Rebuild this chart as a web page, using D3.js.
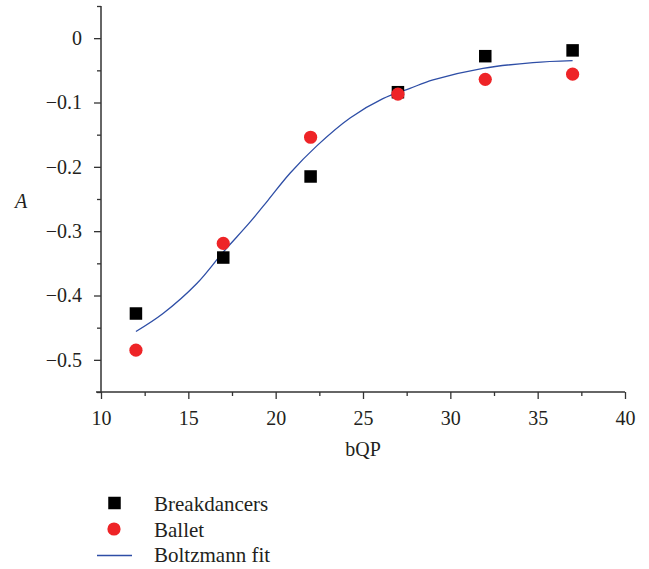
<!DOCTYPE html>
<html>
<head>
<meta charset="utf-8">
<script src="https://cdn.jsdelivr.net/npm/d3@7"></script>
</head>
<body style="margin:0">
<script>
// bQP levels and measured A values for the two dance sequences
const bqp = [12, 17, 22, 27, 32, 37];
const breakdancers = [-0.428, -0.341, -0.215, -0.084, -0.028, -0.019];
const ballet = [-0.485, -0.319, -0.154, -0.087, -0.064, -0.056];

// Boltzmann fit, sampled along the fitted curve
const fitX = [12.0, 13.55, 15.5, 16.98, 18.53, 19.56, 20.82, 22.37, 24.26, 26.14, 27.69, 29.01, 31.87, 34.73, 37.0];
const fitY = [-0.456, -0.428, -0.381, -0.333, -0.286, -0.252, -0.210, -0.167, -0.124, -0.094, -0.078, -0.065, -0.047, -0.038, -0.035];

const xTicks = [10, 15, 20, 25, 30, 35, 40];
const yTicks = [0, -0.1, -0.2, -0.3, -0.4, -0.5];
const legendLabels = ["Breakdancers", "Ballet", "Boltzmann fit"];

const FONT = '"Liberation Serif"';
const INK = "#231f20";

const W = 649, H = 569;
const svg = d3.select("body").append("svg").attr("width", W).attr("height", H)
  .style("display", "block").style("font-family", FONT);

const x = d3.scaleLinear().domain([10, 40]).range([101, 625]);
const y = d3.scaleLinear().domain([-0.55, 0.05]).range([392, 6]);

const axisColor = "#333";
const fmt = d => d === 0 ? "0" : d3.format(".1f")(d);

// minor ticks
const xMinor = d3.range(12.5, 40, 5);
const yMinor = d3.range(-0.55, 0.06, 0.1).map(v => +v.toFixed(2));

// label helper: plain text in the serif face
const serif = sel => sel.style("font-family", FONT).attr("fill", INK);

const gx = svg.append("g").attr("transform", `translate(0,392)`);
gx.call(d3.axisBottom(x).tickValues(xMinor).tickSize(4).tickFormat(""));
gx.selectAll(".tick line").attr("stroke", axisColor).attr("stroke-width", 1.3);
gx.select(".domain").remove();
const gx2 = svg.append("g").attr("transform", `translate(0,392)`);
gx2.call(d3.axisBottom(x).tickValues(xTicks).tickSize(7).tickPadding(12).tickFormat(d3.format("d")).tickSizeOuter(0));
gx2.attr("font-family", null).attr("font-size", null);
gx2.selectAll(".domain").attr("stroke", axisColor).attr("stroke-width", 1.5).attr("d", `M96,0H${x(40)}`);
gx2.selectAll(".tick line").attr("stroke", axisColor).attr("stroke-width", 1.3);
gx2.selectAll(".tick text").call(serif).attr("font-size", 20);

const gy = svg.append("g").attr("transform", `translate(101,0)`);
gy.call(d3.axisLeft(y).tickValues(yMinor).tickSize(4).tickFormat(""));
gy.selectAll(".tick line").attr("stroke", axisColor).attr("stroke-width", 1.3);
gy.select(".domain").remove();
const gy2 = svg.append("g").attr("transform", `translate(101,0)`);
gy2.call(d3.axisLeft(y).tickValues(yTicks).tickSize(7).tickPadding(12).tickFormat(fmt).tickSizeOuter(0));
gy2.attr("font-family", null).attr("font-size", null);
gy2.selectAll(".domain").attr("stroke", axisColor).attr("stroke-width", 1.5).attr("d", `M0,${y(0.05)}V${y(-0.55) + 1}`);
gy2.selectAll(".tick line").attr("stroke", axisColor).attr("stroke-width", 1.3);
gy2.selectAll(".tick text").call(serif).attr("font-size", 20);

// axis titles
svg.append("text").attr("x", x(25)).attr("y", 456).attr("text-anchor", "middle")
  .call(serif).attr("font-size", 20).text("bQP");
svg.append("text").attr("x", 21).attr("y", 208).attr("text-anchor", "middle")
  .call(serif).attr("font-size", 20).style("font-style", "italic").text("A");

const blue = "#2e4ea6", red = "#ee2427", black = "#000";
const sq = 12.5, rad = 6.6;

// fitted curve
const fitPts = fitX.map((v, i) => [v, fitY[i]]);
svg.append("path").datum(fitPts)
  .attr("fill", "none").attr("stroke", blue).attr("stroke-width", 1.3)
  .attr("d", d3.line().x(d => x(d[0])).y(d => y(d[1])).curve(d3.curveCatmullRom.alpha(0.5)));

// Breakdancers squares
svg.append("g").selectAll("rect").data(bqp.map((v, i) => [v, breakdancers[i]])).join("rect")
  .attr("x", d => x(d[0]) - sq / 2).attr("y", d => y(d[1]) - sq / 2)
  .attr("width", sq).attr("height", sq).attr("fill", black);

// Ballet circles
svg.append("g").selectAll("circle").data(bqp.map((v, i) => [v, ballet[i]])).join("circle")
  .attr("cx", d => x(d[0])).attr("cy", d => y(d[1])).attr("r", rad).attr("fill", red);

// legend
const lg = svg.append("g");
const ly = [503, 529, 555.5];
lg.append("rect").attr("x", 114.5 - sq / 2).attr("y", ly[0] - sq / 2).attr("width", sq).attr("height", sq).attr("fill", black);
lg.append("circle").attr("cx", 114).attr("cy", ly[1]).attr("r", rad).attr("fill", red);
lg.append("line").attr("x1", 97).attr("x2", 132).attr("y1", ly[2]).attr("y2", ly[2])
  .attr("stroke", blue).attr("stroke-width", 1.3);
lg.selectAll("text").data(legendLabels).join("text")
  .attr("x", 154).attr("y", (d, i) => [511, 536.5, 562][i])
  .call(serif).attr("font-size", 21).text(d => d);
</script>
</body>
</html>
